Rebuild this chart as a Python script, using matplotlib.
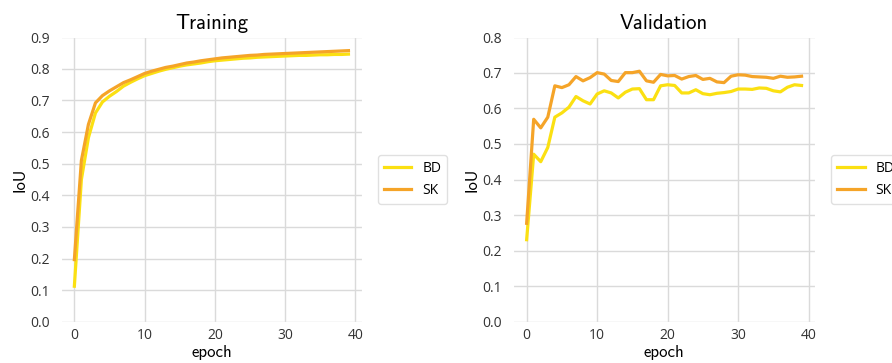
import matplotlib
matplotlib.use("Agg")
import matplotlib.pyplot as plt
import numpy as np

# IoU per epoch
epochs = list(range(40))

train_bd = [0.113, 0.45, 0.582, 0.660, 0.695, 0.713, 0.728, 0.745, 0.757, 0.768,
            0.778, 0.785, 0.792, 0.798, 0.803, 0.808, 0.812, 0.815, 0.818, 0.822,
            0.825, 0.827, 0.829, 0.831, 0.833, 0.834, 0.836, 0.837, 0.838, 0.839,
            0.840, 0.841, 0.842, 0.842, 0.843, 0.844, 0.844, 0.845, 0.845, 0.846]
train_sk = [0.197, 0.51, 0.624, 0.692, 0.715, 0.730, 0.743, 0.756, 0.765, 0.775,
            0.785, 0.792, 0.798, 0.804, 0.808, 0.813, 0.818, 0.821, 0.825, 0.828,
            0.831, 0.834, 0.836, 0.838, 0.840, 0.842, 0.843, 0.845, 0.846, 0.847,
            0.848, 0.849, 0.850, 0.851, 0.852, 0.853, 0.854, 0.855, 0.856, 0.857]

val_bd = [0.231, 0.471, 0.450, 0.490, 0.575, 0.587, 0.603, 0.633, 0.621, 0.612,
          0.640, 0.649, 0.643, 0.629, 0.645, 0.654, 0.655, 0.624, 0.624, 0.663,
          0.666, 0.664, 0.643, 0.643, 0.652, 0.641, 0.638, 0.642, 0.644, 0.647,
          0.654, 0.654, 0.653, 0.657, 0.656, 0.649, 0.646, 0.659, 0.666, 0.664]
val_sk = [0.277, 0.569, 0.545, 0.575, 0.663, 0.658, 0.666, 0.689, 0.677, 0.686,
          0.700, 0.696, 0.678, 0.675, 0.700, 0.700, 0.704, 0.677, 0.673, 0.695,
          0.691, 0.692, 0.682, 0.689, 0.692, 0.681, 0.684, 0.674, 0.672, 0.690,
          0.694, 0.693, 0.689, 0.688, 0.687, 0.684, 0.690, 0.687, 0.688, 0.690]

series_names = ["BD", "SK"]
colors = ["#fbe012", "#f5a428"]

panels = [
    ("Training", train_bd, train_sk, 0.9),
    ("Validation", val_bd, val_sk, 0.8),
]

plt.rcParams["font.family"] = ["Open Sans", "DejaVu Sans"]
label_font = "cmss10"

fig = plt.figure(figsize=(8.92, 3.63), dpi=100)
ax_pos = [[0.068, 0.113, 0.338, 0.785], [0.575, 0.113, 0.339, 0.785]]

for pos, (title, bd, sk, ymax) in zip(ax_pos, panels):
    ax = fig.add_axes(pos)
    for name, vals, c in zip(series_names, [bd, sk], colors):
        ax.plot(epochs, vals, color=c, linewidth=2.3, label=name)
    ax.set_ylim(0, ymax)
    ax.set_xticks([0, 10, 20, 30, 40])
    ax.set_yticks(np.round(np.arange(0, ymax + 0.01, 0.1), 1))
    ax.set_yticklabels([f"{t:.1f}" for t in np.arange(0, ymax + 0.01, 0.1)])
    ax.grid(True, color="#dadada", linewidth=1.0)
    ax.set_axisbelow(True)
    for sp in ax.spines.values():
        sp.set_color("white")
        sp.set_zorder(1.5)
    ax.tick_params(length=0, labelsize=10, labelcolor="#333333")
    ax.tick_params(axis="y", pad=8)
    ax.tick_params(axis="x", pad=4)
    ax.set_title(title, family=label_font, fontsize=15, pad=6)
    ax.set_xlabel("epoch", family=label_font, fontsize=12, labelpad=2)
    ax.set_ylabel("IoU", family=label_font, fontsize=12, labelpad=2)
    leg = ax.legend(loc="center left", bbox_to_anchor=(1.03, 0.5), fontsize=10,
                    frameon=True, fancybox=True)
    leg.get_frame().set_edgecolor("#d9d9d9")

fig.savefig("out.png", dpi=100)
